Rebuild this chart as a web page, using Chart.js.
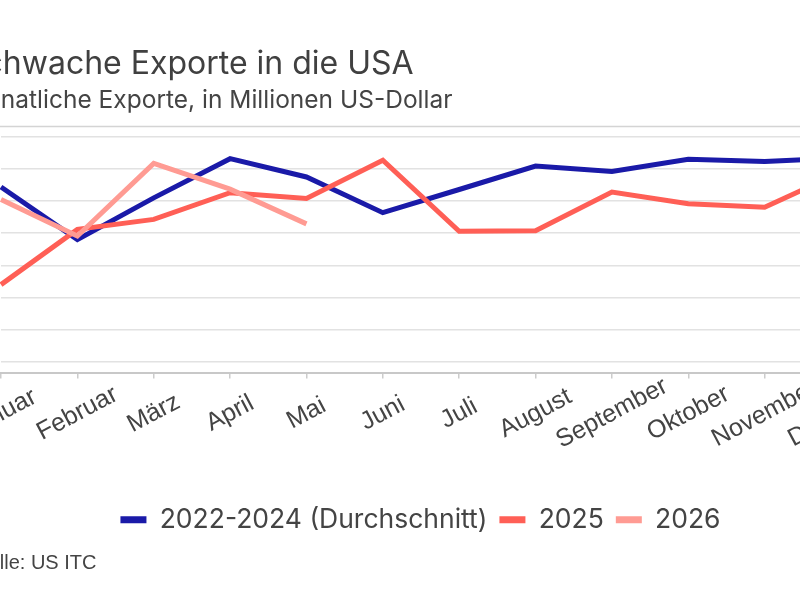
<!DOCTYPE html>
<html lang="de">
<head>
<meta charset="utf-8">
<title>Schwache Exporte in die USA</title>
<script src="https://cdn.jsdelivr.net/npm/chart.js@4.4.1/dist/chart.umd.min.js"></script>
<style>
  html, body { margin: 0; padding: 0; background: #fff; }
  body { width: 800px; height: 600px; overflow: hidden; position: relative; }
  #wrap { position: absolute; left: -36px; top: 0; width: 913px; height: 600px; }
  #quelle {
    position: absolute; left: -38px; top: 551px;
    font: 20px "Liberation Sans", Arial, sans-serif; color: #444; white-space: nowrap;
  }
</style>
</head>
<body>
<div id="wrap"><canvas id="chart"></canvas></div>
<div id="quelle">Quelle: US ITC</div>
<script>
// Monate (x-Achse)
const months = ['Januar', 'Februar', 'März', 'April', 'Mai', 'Juni', 'Juli',
  'August', 'September', 'Oktober', 'November', 'Dezember'];

// monatliche Exporte, in Millionen US-Dollar (aus dem Bild geschätzt)
const avg2022to2024 = [2720, 1900, 2550, 3160, 2875, 2320, 2680, 3045, 2960, 3150, 3115, 3170];
const exports2025 = [1200, 2060, 2215, 2630, 2540, 3135, 2030, 2040, 2640, 2460, 2405, 2950];
const exports2026 = [2525, 1955, 3085, 2685, 2145];

// y-Achse: Gitterlinien
const yGridValues = [0, 500, 1000, 1500, 2000, 2500, 3000, 3500];
const yMin = -167;
const yMax = 3500;

const textColor = '#444';

// Trennlinie unter dem Untertitel
const headerLine = {
  id: 'headerLine',
  afterDraw(chart) {
    const ctx = chart.ctx;
    ctx.save();
    ctx.strokeStyle = '#d4d4d4';
    ctx.lineWidth = 1.5;
    ctx.beginPath();
    ctx.moveTo(0, 126.5);
    ctx.lineTo(chart.width, 126.5);
    ctx.stroke();
    ctx.restore();
  }
};

// schräge, mittig ausgerichtete Monatsbeschriftungen
const slantedLabels = {
  id: 'slantedLabels',
  afterDraw(chart) {
    const scale = chart.scales.x;
    const ctx = chart.ctx;
    ctx.save();
    ctx.font = '25px "Liberation Sans", Arial, sans-serif';
    ctx.fillStyle = textColor;
    ctx.textAlign = 'center';
    ctx.textBaseline = 'middle';
    scale.ticks.forEach((t, i) => {
      const x = scale.getPixelForTick(i);
      ctx.save();
      ctx.translate(x, scale.top + 41);
      ctx.rotate(-28 * Math.PI / 180);
      ctx.fillText(months[i], 0, 0);
      ctx.restore();
    });
    ctx.restore();
  }
};

new Chart(document.getElementById('chart'), {
  type: 'line',
  data: {
    labels: months,
    datasets: [
      {
        label: '2022-2024 (Durchschnitt)',
        data: avg2022to2024,
        borderColor: '#1a1aa8',
        backgroundColor: '#1a1aa8',
        order: 3,
      },
      {
        label: '2025',
        data: exports2025,
        borderColor: '#ff5f56',
        backgroundColor: '#ff5f56',
        order: 2,
      },
      {
        label: '2026',
        data: exports2026,
        borderColor: '#ff9b93',
        backgroundColor: '#ff9b93',
        order: 1,
      },
    ],
  },
  options: {
    responsive: true,
    maintainAspectRatio: false,
    animation: false,
    layout: { padding: { left: 0, right: 0, top: 0, bottom: 57 } },
    elements: {
      line: { borderWidth: 5, tension: 0, borderJoinStyle: 'miter' },
      point: { radius: 0, hoverRadius: 0 },
    },
    plugins: {
      tooltip: { enabled: false },
      title: {
        display: true,
        text: 'Schwache Exporte in die USA',
        align: 'start',
        color: '#404040',
        font: { family: 'Inter', size: 32, weight: 'normal', lineHeight: 1.2 },
        padding: { top: 45, bottom: 0 },
      },
      subtitle: {
        display: true,
        text: 'Monatliche Exporte, in Millionen US-Dollar',
        align: 'start',
        color: textColor,
        font: { family: 'Inter', size: 24.5, weight: 'normal', lineHeight: 1.2 },
        padding: { top: 3, bottom: 21 },
      },
      legend: {
        position: 'bottom',
        labels: {
          color: textColor,
          font: { family: 'Inter', size: 26.5 },
          boxWidth: 26,
          boxHeight: 7,
          padding: 12,
          sort: (a, b) => a.datasetIndex - b.datasetIndex,
          generateLabels: (chart) =>
            Chart.defaults.plugins.legend.labels.generateLabels(chart)
              .map(l => ({ ...l, lineWidth: 0 })),
        },
      },
    },
    scales: {
      x: {
        offset: false,
        afterFit: (scale) => { scale.height = 122; },
        ticks: { display: false },
        grid: {
          drawOnChartArea: false,
          drawTicks: true,
          tickLength: 6,
          color: '#cccccc',
          lineWidth: 1.5,
        },
        border: { display: true, color: '#c8c8c8', width: 2 },
      },
      y: {
        min: yMin,
        max: yMax,
        afterFit: (scale) => { scale.width = 37; },
        afterBuildTicks: (scale) => { scale.ticks = yGridValues.map(v => ({ value: v })); },
        ticks: { display: false },
        grid: { drawTicks: false, lineWidth: 1.5, color: '#e2e2e2' },
        border: { display: false },
      },
      // leerer Rand rechts, damit die Legende mittig sitzt
      yRight: {
        type: 'linear',
        position: 'right',
        min: 0,
        max: 1,
        afterFit: (scale) => { scale.width = 36; },
        ticks: { display: false },
        grid: { display: false },
        border: { display: false },
      },
    },
  },
  plugins: [headerLine, slantedLabels],
});
</script>
</body>
</html>
